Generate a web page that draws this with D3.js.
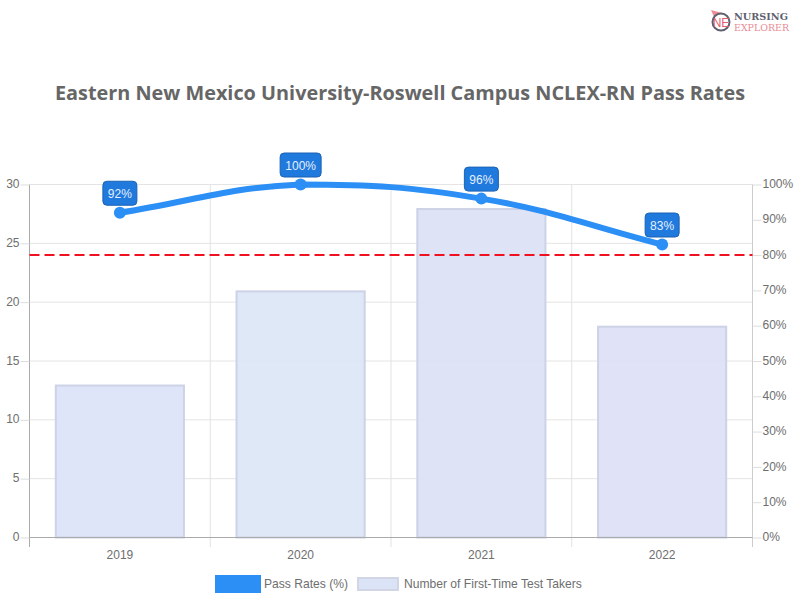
<!DOCTYPE html>
<html><head><meta charset="utf-8">
<style>html,body{margin:0;padding:0;background:#fff}svg{display:block}
text{font-family:"Liberation Sans",Arial,sans-serif}</style>
<script src="https://cdn.jsdelivr.net/npm/d3@7"></script></head>
<body><svg id="c" width="800" height="600"></svg>
<script>
const years = ["2019","2020","2021","2022"];
const passRates = [92,100,96,83];
const takers = [13,21,28,18];
const barFills = ["#dbe3f7","#dce6f6","#dbe1f4","#dee1f6"];
const benchmark = 80;
const leftTicks = [0,5,10,15,20,25,30];
const rightTicks = [0,10,20,30,40,50,60,70,80,90,100];
const chartTitle = "Eastern New Mexico University-Roswell Campus NCLEX-RN Pass Rates";
const legendLabels = ["Pass Rates (%)","Number of First-Time Test Takers"];

const svg = d3.select("#c");
const L=29.5,R=752.5,T=184.5,B=537.5;
const x = d3.scaleBand().domain(years).range([L,R]);
const yL = d3.scaleLinear().domain([0,30]).range([B,T]);
const yR = d3.scaleLinear().domain([0,100]).range([B,T]);

svg.append("text").attr("x",400).attr("y",100).attr("text-anchor","middle")
  .style("font-family","'Open Sans'").style("font-weight",700).style("font-size","19.85px")
  .attr("fill","#666").text(chartTitle);

// grid
const g = svg.append("g");
g.selectAll(".h").data(leftTicks).join("line").attr("x1",L).attr("x2",R)
  .attr("y1",d=>yL(d)).attr("y2",d=>yL(d)).attr("stroke","#e4e4e4");
const edges = years.map(d=>x(d)).concat([R]);
g.selectAll(".v").data(edges).join("line").attr("x1",d=>d).attr("x2",d=>d)
  .attr("y1",T).attr("y2",547).attr("stroke",(d,i)=>i==0?"#aaa":(i==4?"#ccc":"#e2e2e2"));

// axes
function style(a){a.select(".domain").remove();a.selectAll("line").attr("stroke","#ddd");
  a.selectAll("text").attr("fill","#6e6e6e").style("font-family","'Liberation Sans'").style("font-size","12px");}
svg.append("g").attr("transform",`translate(${L},0)`)
  .call(d3.axisLeft(yL).tickValues(leftTicks).tickSize(9).tickPadding(1)).call(style)
  .selectAll("text").attr("dy","0.26em");
svg.append("g").attr("transform",`translate(${R},0)`)
  .call(d3.axisRight(yR).tickValues(rightTicks).tickSize(9).tickPadding(1).tickFormat(d=>d+"%")).call(style)
  .selectAll("text").attr("dy","0.26em");
svg.append("g").attr("transform",`translate(0,${B})`)
  .call(d3.axisBottom(x).tickSize(0).tickPadding(13)).call(style);

// bars
const bw = x.bandwidth()*0.72;
svg.selectAll(".bar").data(years).join("rect")
  .attr("x",d=>x(d)+x.bandwidth()/2-bw/2+1).attr("width",bw-2)
  .attr("y",(d,i)=>yL(takers[i])+1).attr("height",(d,i)=>B-yL(takers[i])-1)
  .attr("fill",(d,i)=>barFills[i]).attr("fill-opacity",0.93)
  .attr("stroke","#cdd2e6").attr("stroke-width",2);
svg.append("line").attr("x1",L).attr("x2",R).attr("y1",B).attr("y2",B).attr("stroke","#aaa");

// benchmark
svg.append("line").attr("x1",L).attr("x2",R).attr("y1",yR(benchmark)).attr("y2",yR(benchmark))
  .attr("stroke","#f01020").attr("stroke-width",2).attr("stroke-dasharray","10 5");

// line: bezier with tension 0.4 and control points capped to the plot area
const pts = years.map((d,i)=>({x:x(d)+x.bandwidth()/2,y:yR(passRates[i])}));
const cap = (v,a,b)=>Math.max(a,Math.min(b,v));
const p = d3.path();
const ctrl = pts.map((c,i)=>{
  const a=pts[i-1]||c,b=pts[i+1]||c;
  const d1=Math.hypot(c.x-a.x,c.y-a.y),d2=Math.hypot(b.x-c.x,b.y-c.y);
  const s=d1+d2,f1=0.4*d1/s,f2=0.4*d2/s;
  return {px:cap(c.x-f1*(b.x-a.x),L,R),py:cap(c.y-f1*(b.y-a.y),T,B),
          nx:cap(c.x+f2*(b.x-a.x),L,R),ny:cap(c.y+f2*(b.y-a.y),T,B)};
});
p.moveTo(pts[0].x,pts[0].y);
for(let i=1;i<pts.length;i++)p.bezierCurveTo(ctrl[i-1].nx,ctrl[i-1].ny,ctrl[i].px,ctrl[i].py,pts[i].x,pts[i].y);
svg.append("path").attr("d",p.toString()).attr("fill","none").attr("stroke","#2b8ff5").attr("stroke-width",6);
svg.selectAll(".pt").data(pts).join("circle").attr("cx",d=>d.x).attr("cy",d=>d.y).attr("r",6).attr("fill","#2b8ff5");

// value labels
const lab = svg.selectAll(".lab").data(pts).join("g").attr("transform",d=>`translate(${d.x},${d.y-19.5})`);
lab.append("rect").attr("x",(d,i)=>passRates[i]==100?-20.5:-17).attr("width",(d,i)=>passRates[i]==100?41:34)
  .attr("y",-12).attr("height",24).attr("rx",4).attr("fill","#2079dc").attr("stroke","#1b62b5");
lab.append("text").attr("text-anchor","middle").attr("y",4.5).attr("fill","#e4f0ff")
  .style("font-size","12px").text((d,i)=>passRates[i]+"%");

// legend
const lg = svg.append("g");
lg.append("rect").attr("x",215).attr("y",575).attr("width",46).attr("height",18).attr("fill","#2b8ff5");
lg.append("text").attr("x",264).attr("y",588).attr("fill","#6e6e6e").style("font-size","12.1px").text(legendLabels[0]);
lg.append("rect").attr("x",358).attr("y",578).attr("width",40).attr("height",12).attr("fill","#dbe3f7").attr("stroke","#d2d5e4").attr("stroke-width",2);
lg.append("text").attr("x",404).attr("y",588).attr("fill","#6e6e6e").style("font-size","12.1px").text(legendLabels[1]);

// logo
const lo = svg.append("g");
lo.append("path").attr("d","M711 10 L722 13 L715 19 Z").attr("fill","#ef8b93");
lo.append("circle").attr("cx",721).attr("cy",22).attr("r",8.5).attr("fill","#fff").attr("stroke","#5f6070").attr("stroke-width",2);
lo.append("text").attr("x",721).attr("y",26.5).attr("text-anchor","middle").attr("fill","#e4606d")
  .style("font-size","12px").text("NE");
lo.append("text").attr("x",734).attr("y",20).attr("fill","#5f6070")
  .style("font-family","'DejaVu Serif'").style("font-weight",700).style("font-size","9.4px").attr("textLength",54).attr("lengthAdjust","spacingAndGlyphs").text("NURSING");
lo.append("text").attr("x",734).attr("y",31.2).attr("fill","#e98a94")
  .style("font-family","'DejaVu Serif'").style("font-size","9.4px").attr("textLength",55).attr("lengthAdjust","spacingAndGlyphs").text("EXPLORER");
</script></body></html>
